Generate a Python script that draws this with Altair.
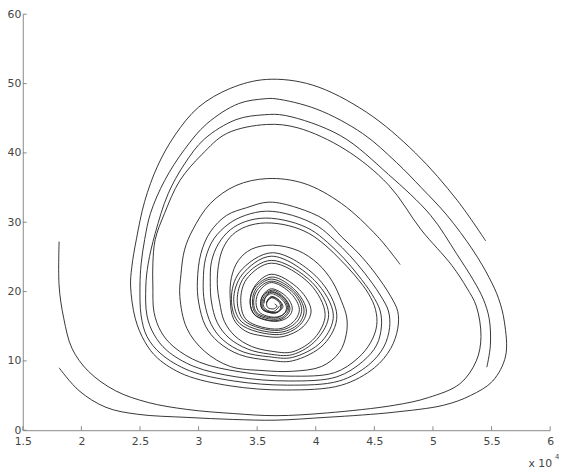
import altair as alt
import pandas as pd

# Phase-plane trajectories (x in units of 10^4, y)
TRAJ_A = [(5.45,27.3),(5.21,33.1),(4.85,40.0),(4.43,45.9),(3.97,49.8),(3.58,50.6),(3.27,49.3),(3.00,46.6),
          (2.80,42.6),(2.65,38.1),(2.54,33.0),(2.47,27.6),(2.43,23.5),(2.42,20.8),(2.46,16.1),(2.54,12.8),
          (2.65,10.4),(2.88,8.0),(3.27,6.4),(3.74,5.8),(4.22,6.5),(4.50,9.0),(4.64,11.8),(4.70,14.7),
          (4.70,17.1),(4.64,19.3),(4.50,22.8),(4.36,25.6),(4.22,27.9),(4.08,30.3),(3.84,32.1),(3.60,32.9),
          (3.41,32.1),(3.24,31.0),(3.10,28.6),(3.02,25.5),(2.99,21.5),(3.00,18.5),(3.06,15.0),(3.17,12.7),
          (3.35,10.9),(3.60,10.1),(3.80,10.0),(4.07,12.4),(4.18,16.5),(4.02,21.9),(3.63,25.6),(3.35,22.8),
          (3.28,18.9),(3.35,15.4),(3.69,13.8),(3.86,15.1),(3.92,17.2),(3.83,20.1),(3.63,22.1),(3.48,20.6),
          (3.44,18.5),(3.48,16.65),(3.66,15.8),(3.75,16.5),(3.78,17.6),(3.73,19.15),(3.63,20.2),(3.55,19.4),
          (3.53,18.3),(3.55,17.35),(3.65,16.9),(3.69,17.25),(3.71,17.85),(3.69,18.65),(3.63,19.2),(3.59,18.8),
          (3.58,18.2),(3.59,17.7),(3.64,17.5),(3.67,17.9),(3.65,18.2)]

TRAJ_B = [(1.81,9.0),(1.98,5.7),(2.21,3.3),(2.48,2.3),(2.90,1.85),(3.30,1.55),(3.66,1.45),(4.08,1.85),
          (4.40,2.2),(4.67,2.6),(5.09,3.6),(5.32,5.0),(5.51,7.1),(5.62,10.7),(5.61,15.6),(5.56,19.0),
          (5.48,22.0),(5.34,26.0),(5.12,31.0),(4.90,35.0),(4.69,38.6),(4.40,42.8),(4.01,46.3),(3.66,47.8),
          (3.56,47.8),(3.34,47.1),(3.07,44.2),(2.88,40.5),(2.71,36.0),(2.59,31.3),(2.54,27.5),(2.51,24.0),
          (2.50,20.8),(2.51,16.5),(2.56,13.5),(2.68,11.0),(2.92,8.6),(3.30,7.1),(3.76,6.5),(4.20,7.1),
          (4.45,9.4),(4.58,12.0),(4.63,14.8),(4.62,17.2),(4.55,19.5),(4.42,22.6),(4.29,25.2),(4.16,27.4),
          (4.02,29.4),(3.80,31.0),(3.58,31.6),(3.40,31.0),(3.26,29.8),(3.13,27.6),(3.06,24.8),(3.04,21.5),
          (3.05,18.5),(3.11,15.2),(3.21,13.0),(3.38,11.3),(3.60,10.6),(3.80,10.5),(4.05,12.8),(4.15,16.6),
          (3.99,21.6),(3.62,25.1),(3.37,22.4),(3.30,18.8),(3.37,15.6),(3.68,14.1),(3.85,15.3),(3.90,17.3),
          (3.82,19.95),(3.62,21.8),(3.49,20.4),(3.46,18.5),(3.49,16.8),(3.66,16.0),(3.74,16.6),(3.77,17.7),
          (3.73,19.05),(3.62,20.0),(3.56,19.3),(3.54,18.3),(3.56,17.4),(3.65,17.0),(3.69,17.3),(3.70,17.9),
          (3.68,18.6),(3.62,19.1),(3.58,18.4)]

TRAJ_C = [(5.46,9.1),(5.49,12.2),(5.48,16.1),(5.43,18.9),(5.35,21.5),(5.20,25.5),(4.98,31.0),(4.62,36.9),
          (4.21,42.5),(3.74,45.4),(3.56,45.5),(3.32,44.8),(3.05,42.0),(2.88,38.4),(2.74,34.1),(2.63,28.4),
          (2.57,24.0),(2.55,20.8),(2.56,16.5),(2.62,13.8),(2.73,11.5),(2.96,9.2),(3.32,7.7),(3.77,7.1),
          (4.18,7.7),(4.40,9.9),(4.52,12.3),(4.56,14.9),(4.55,17.2),(4.48,19.6),(4.36,22.4),(4.24,24.8),
          (4.10,27.1),(3.96,28.9),(3.78,30.1),(3.57,30.6),(3.40,30.1),(3.27,28.9),(3.17,26.9),(3.11,24.3),
          (3.10,21.3),(3.11,18.5),(3.16,15.5),(3.26,13.3),(3.42,11.7),(3.60,11.0),(3.80,10.9),(4.01,13.1),
          (4.11,16.7),(3.97,21.3),(3.62,24.5),(3.39,22.1),(3.33,18.7),(3.39,15.8),(3.68,14.4),(3.83,15.5),
          (3.88,17.4),(3.81,19.8),(3.62,21.5),(3.50,20.2),(3.47,18.4),(3.50,16.9),(3.66,16.2),(3.73,16.8),
          (3.76,17.7),(3.72,19.0),(3.62,19.9),(3.57,19.2),(3.55,18.3),(3.57,17.5),(3.64,17.1),(3.69,17.9)]

TRAJ_D = [(1.81,27.2),(1.81,20.8),(1.85,16.1),(1.92,11.8),(2.06,8.5),(2.29,5.7),(2.57,4.0),(2.90,3.0),
          (3.30,2.4),(3.66,2.1),(4.10,2.5),(4.67,3.6),(4.96,4.7),(5.23,6.7),(5.37,10.0),(5.41,13.5),
          (5.37,17.9),(5.29,20.5),(5.16,23.8),(4.90,28.9),(4.62,35.4),(4.25,40.5),(3.85,43.6),(3.58,44.1),
          (3.24,42.8),(3.03,39.8),(2.84,36.0),(2.71,31.3),(2.63,27.5),(2.61,24.0),(2.61,20.8),(2.62,17.0),
          (2.68,14.2),(2.79,12.0),(3.01,9.8),(3.36,8.4),(3.78,7.8),(4.16,8.3),(4.36,10.4),(4.47,12.7),
          (4.52,15.1),(4.51,17.4),(4.45,19.7),(4.33,22.4),(4.21,24.6),(4.08,26.7),(3.94,28.4),(3.77,29.5),
          (3.57,29.9),(3.41,29.4),(3.29,28.2),(3.21,26.3),(3.17,23.8),(3.16,21.0),(3.18,18.4),(3.22,15.7),
          (3.31,13.6),(3.45,12.1),(3.62,11.4),(3.80,11.3),(3.99,13.3),(4.08,16.7),(3.95,21.1),(3.62,24.1),
          (3.41,21.8),(3.36,18.7),(3.41,15.9),(3.68,14.6),(3.81,15.65),(3.86,17.4),(3.79,19.7),(3.62,21.3),
          (3.52,20.1),(3.49,18.4),(3.52,17.0),(3.65,16.3),(3.73,16.8),(3.75,17.75),(3.71,18.9),(3.62,19.7),
          (3.57,19.1),(3.56,18.3)]

TRAJ_E = [(4.72,23.9),(4.53,27.9),(4.22,32.7),(3.90,35.6),(3.59,36.3),(3.32,35.3),(3.10,32.7),(2.95,28.9),
          (2.88,26.0),(2.85,22.5),(2.84,19.3),(2.90,14.7),(3.05,11.4),(3.27,9.2),(3.55,8.6),(3.80,8.5),
          (4.05,9.2),(4.20,11.2),(4.26,13.8),(4.265,16.2),(4.22,18.6),(4.14,21.5),(4.02,24.0),(3.85,25.9),
          (3.63,26.7),(3.45,26.1),(3.34,24.5),(3.28,22.0),(3.27,19.0),(3.30,16.0),(3.40,14.3),(3.55,13.6),
          (3.72,13.5),(3.89,14.9),(3.96,17.2),(3.86,20.3),(3.62,22.5),(3.48,20.8),(3.44,18.5),(3.48,16.6),
          (3.66,15.7),(3.77,16.4),(3.80,17.6),(3.75,19.25),(3.62,20.4),(3.55,19.5),(3.53,18.3),(3.55,17.35),
          (3.65,16.9),(3.70,17.3),(3.72,17.85),(3.69,18.7),(3.62,19.3),(3.58,18.4)]

X_TICKS = [1.5, 2, 2.5, 3, 3.5, 4, 4.5, 5, 5.5, 6]
Y_TICKS = [0, 10, 20, 30, 40, 50, 60]

rows = []
for name, pts in [("A", TRAJ_A), ("B", TRAJ_B), ("C", TRAJ_C), ("D", TRAJ_D), ("E", TRAJ_E)]:
    for i, (x, y) in enumerate(pts):
        rows.append({"traj": name, "i": i, "x": x, "y": y})
df = pd.DataFrame(rows)

W, H = 535, 422
FONT = "DejaVu Sans"
xs = alt.Scale(domain=[1.5, 6], nice=False, zero=False)
ys = alt.Scale(domain=[0, 60], nice=False, zero=False)

lines = alt.Chart(df).mark_line(
    color="#1e1e1e", strokeWidth=0.9, interpolate="catmull-rom"
).encode(
    x=alt.X("x:Q", scale=xs, axis=alt.Axis(values=X_TICKS, format="~g", title=None, grid=False,
                                          ticks=False, labelPadding=6, labelFontSize=11, labelFont=FONT,
                                          labelColor="#444", domainColor="#888", labelFlush=False)),
    y=alt.Y("y:Q", scale=ys, axis=alt.Axis(values=Y_TICKS, title=None, grid=False, ticks=False,
                                          labelPadding=2, labelFontSize=11, labelFont=FONT,
                                          labelColor="#444", domainColor="#888", labelFlush=False)),
    detail="traj:N",
    order="i:Q",
)

xt = alt.Chart(pd.DataFrame({"v": X_TICKS})).mark_rule(color="#888", strokeWidth=1).encode(
    x=alt.X("v:Q", scale=xs), y=alt.value(H), y2=alt.value(H - 4)
)
yt = alt.Chart(pd.DataFrame({"v": Y_TICKS})).mark_rule(color="#888", strokeWidth=1).encode(
    y=alt.Y("v:Q", scale=ys), x=alt.value(0), x2=alt.value(4)
)

exp_main = alt.Chart(pd.DataFrame({"t": ["x 10"]})).mark_text(
    font=FONT, fontSize=11, color="#444", align="left", baseline="middle"
).encode(text="t:N", x=alt.value(513), y=alt.value(456))
exp_sup = alt.Chart(pd.DataFrame({"t": ["4"]})).mark_text(
    font=FONT, fontSize=7, color="#444", align="left", baseline="middle"
).encode(text="t:N", x=alt.value(540), y=alt.value(449))

chart = alt.layer(lines, xt, yt, exp_main, exp_sup).properties(
    width=W, height=H,
    autosize=alt.AutoSizeParams(type="none"),
    padding={"left": 15, "top": 3, "right": 9, "bottom": 36},
).configure_view(stroke=None).configure_axis(domainWidth=1)

chart.save("out.html", embed_options={"renderer": "svg", "actions": False})
